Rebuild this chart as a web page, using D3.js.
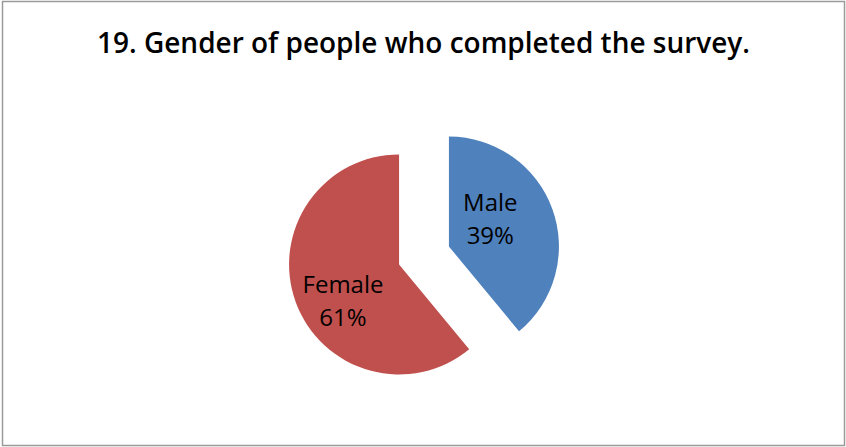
<!DOCTYPE html>
<html>
<head>
<meta charset="utf-8">
<script src="https://cdn.jsdelivr.net/npm/d3@7"></script>
<style>
  html, body { margin: 0; padding: 0; background: #fff; }
  svg { display: block; }
</style>
</head>
<body>
<svg id="chart" width="846" height="447"></svg>
<script>
// Survey question 19: respondent gender
const categories = ["Male", "Female"];
const values = [39, 61];
const percentLabels = ["39%", "61%"];
const colors = ["#4F81BD", "#C0504D"];
const title = "19. Gender of people who completed the survey.";

const W = 846, H = 447;
const cx = 424, cy = 255.5;
const radius = 110;
const explode = 26.5;
// label placement inside each slice (fraction of radius, angular nudge)
const labelRadiusFrac = [0.45, 0.61];
const labelAngleShift = -13.5 * Math.PI / 180;

const svg = d3.select("#chart");

// chart frame
svg.append("rect")
  .attr("x", 2.5).attr("y", 1.5)
  .attr("width", W - 4).attr("height", H - 3)
  .attr("fill", "#fff")
  .attr("stroke", "#9a9a9a")
  .attr("stroke-width", 1.5);

// title
svg.append("text")
  .attr("x", 423.5).attr("y", 53)
  .attr("text-anchor", "middle")
  .attr("font-family", "'Open Sans', 'DejaVu Sans', sans-serif")
  .attr("font-weight", 600)
  .attr("font-size", 29)
  .attr("textLength", 653)
  .attr("lengthAdjust", "spacingAndGlyphs")
  .attr("fill", "#000")
  .text(title);

const pie = d3.pie().sort(null).value(d => d.value);
const arcs = pie(categories.map((c, i) => ({ name: c, value: values[i], pct: percentLabels[i], color: colors[i] })));
const arc = d3.arc().innerRadius(0).outerRadius(radius);

const g = svg.append("g").attr("transform", `translate(${cx},${cy})`);

const slice = g.selectAll("g.slice")
  .data(arcs)
  .enter().append("g")
  .attr("class", "slice")
  .attr("transform", d => {
    const mid = (d.startAngle + d.endAngle) / 2;
    return `translate(${explode * Math.sin(mid)},${-explode * Math.cos(mid)})`;
  });

slice.append("path")
  .attr("d", arc)
  .attr("fill", d => d.data.color);

slice.each(function(d, i) {
  const mid = (d.startAngle + d.endAngle) / 2 + labelAngleShift;
  const rl = radius * labelRadiusFrac[i];
  const lx = rl * Math.sin(mid), ly = -rl * Math.cos(mid);
  const t = d3.select(this).append("text")
    .attr("text-anchor", "middle")
    .attr("font-family", "'Open Sans', 'DejaVu Sans', sans-serif")
    .attr("font-size", 24)
    .attr("fill", "#000");
  t.append("tspan").attr("x", lx).attr("y", ly - 8).text(d.data.name);
  t.append("tspan").attr("x", lx).attr("y", ly + 25).text(d.data.pct);
});
</script>
</body>
</html>
